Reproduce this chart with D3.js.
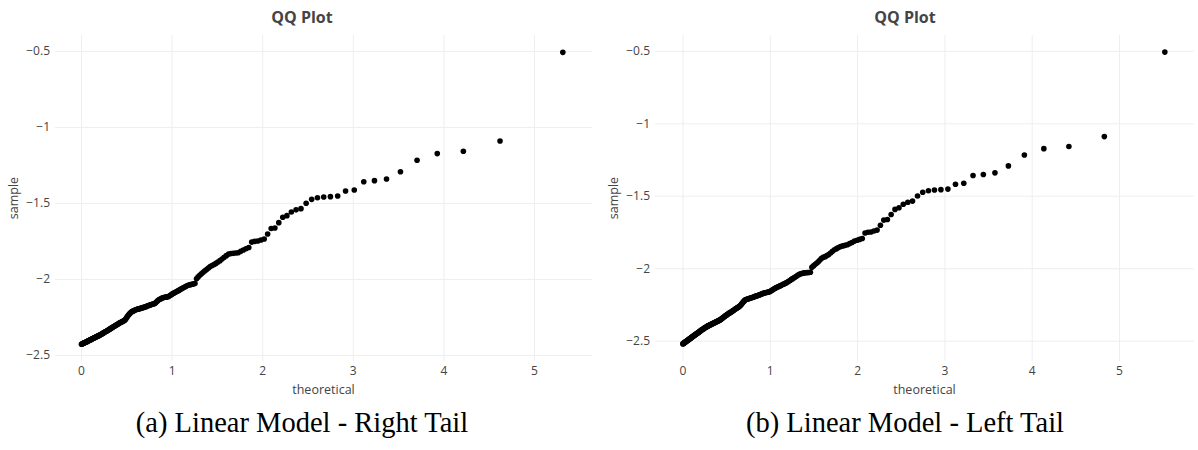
<!DOCTYPE html>
<html>
<head>
<meta charset="utf-8">
<script src="https://cdn.jsdelivr.net/npm/d3@7"></script>
<style>
  html, body { margin: 0; padding: 0; background: #fff; }
  svg { display: block; }
</style>
</head>
<body>
<svg id="chart" width="1198" height="450"></svg>
<script>
// Exponential theoretical quantiles vs. sorted sample, right-tail model (n = 203)
const rightTailTheoretical = [
  0.005,0.010,0.015,0.020,0.025,0.030,0.035,0.040,0.045,0.050,
  0.055,0.061,0.066,0.071,0.076,0.082,0.087,0.092,0.098,0.103,
  0.109,0.114,0.120,0.125,0.131,0.136,0.142,0.148,0.153,0.159,
  0.165,0.171,0.176,0.182,0.188,0.194,0.200,0.206,0.212,0.218,
  0.224,0.230,0.237,0.243,0.249,0.255,0.262,0.268,0.275,0.281,
  0.288,0.294,0.301,0.307,0.314,0.321,0.328,0.334,0.341,0.348,
  0.355,0.362,0.369,0.376,0.384,0.391,0.398,0.405,0.413,0.420,
  0.428,0.435,0.443,0.450,0.458,0.466,0.474,0.482,0.490,0.498,
  0.506,0.514,0.522,0.531,0.539,0.547,0.556,0.564,0.573,0.582,
  0.591,0.600,0.608,0.618,0.627,0.636,0.645,0.655,0.664,0.674,
  0.683,0.693,0.703,0.713,0.723,0.733,0.743,0.754,0.764,0.775,
  0.785,0.796,0.807,0.818,0.829,0.841,0.852,0.864,0.875,0.887,
  0.899,0.911,0.924,0.936,0.949,0.961,0.974,0.987,1.001,1.014,
  1.028,1.041,1.055,1.070,1.084,1.098,1.113,1.128,1.144,1.159,
  1.175,1.191,1.207,1.224,1.240,1.258,1.275,1.293,1.311,1.329,
  1.348,1.367,1.386,1.406,1.426,1.447,1.468,1.489,1.511,1.534,
  1.557,1.580,1.604,1.629,1.654,1.680,1.707,1.734,1.763,1.792,
  1.821,1.852,1.884,1.917,1.951,1.986,2.022,2.060,2.099,2.140,
  2.183,2.227,2.273,2.322,2.374,2.428,2.485,2.546,2.610,2.679,
  2.753,2.833,2.920,3.016,3.121,3.239,3.372,3.526,3.709,3.932,
  4.220,4.625,5.318
];
const rightTailSample = [
  -2.429,-2.427,-2.426,-2.424,-2.423,-2.421,-2.420,-2.419,-2.417,-2.416,
  -2.414,-2.413,-2.411,-2.410,-2.408,-2.406,-2.405,-2.403,-2.401,-2.400,
  -2.398,-2.397,-2.395,-2.393,-2.391,-2.390,-2.388,-2.386,-2.385,-2.383,
  -2.381,-2.379,-2.378,-2.376,-2.374,-2.373,-2.371,-2.369,-2.367,-2.365,
  -2.363,-2.361,-2.358,-2.356,-2.354,-2.352,-2.349,-2.347,-2.345,-2.343,
  -2.340,-2.338,-2.335,-2.333,-2.330,-2.328,-2.325,-2.323,-2.320,-2.317,
  -2.315,-2.312,-2.310,-2.307,-2.304,-2.302,-2.299,-2.297,-2.294,-2.291,
  -2.288,-2.286,-2.284,-2.281,-2.279,-2.276,-2.274,-2.271,-2.266,-2.259,
  -2.252,-2.245,-2.238,-2.232,-2.227,-2.222,-2.217,-2.214,-2.211,-2.209,
  -2.206,-2.204,-2.202,-2.199,-2.198,-2.196,-2.195,-2.193,-2.191,-2.190,
  -2.188,-2.186,-2.184,-2.182,-2.180,-2.177,-2.175,-2.173,-2.171,-2.168,
  -2.166,-2.164,-2.162,-2.160,-2.153,-2.146,-2.139,-2.135,-2.131,-2.128,
  -2.124,-2.121,-2.120,-2.119,-2.117,-2.116,-2.112,-2.107,-2.101,-2.096,
  -2.091,-2.087,-2.083,-2.078,-2.073,-2.068,-2.063,-2.058,-2.053,-2.048,
  -2.043,-2.039,-2.037,-2.034,-2.032,-2.029,-1.998,-1.986,-1.975,-1.966,
  -1.956,-1.946,-1.937,-1.927,-1.918,-1.911,-1.904,-1.897,-1.888,-1.879,
  -1.868,-1.857,-1.846,-1.836,-1.833,-1.831,-1.829,-1.827,-1.818,-1.809,
  -1.801,-1.793,-1.757,-1.752,-1.750,-1.743,-1.737,-1.704,-1.668,-1.664,
  -1.629,-1.594,-1.583,-1.559,-1.545,-1.537,-1.502,-1.476,-1.465,-1.460,
  -1.458,-1.454,-1.421,-1.414,-1.360,-1.353,-1.342,-1.294,-1.219,-1.175,
  -1.160,-1.092,-0.509
];

// Exponential theoretical quantiles vs. sorted sample, left-tail model (n = 250)
const leftTailTheoretical = [
  0.004,0.008,0.012,0.016,0.020,0.024,0.028,0.032,0.036,0.040,
  0.044,0.049,0.053,0.057,0.061,0.065,0.070,0.074,0.078,0.083,
  0.087,0.091,0.096,0.100,0.105,0.109,0.113,0.118,0.122,0.127,
  0.131,0.136,0.141,0.145,0.150,0.154,0.159,0.164,0.168,0.173,
  0.178,0.183,0.187,0.192,0.197,0.202,0.207,0.212,0.217,0.222,
  0.227,0.232,0.237,0.242,0.247,0.252,0.257,0.262,0.268,0.273,
  0.278,0.283,0.289,0.294,0.299,0.305,0.310,0.316,0.321,0.327,
  0.332,0.338,0.343,0.349,0.355,0.360,0.366,0.372,0.378,0.383,
  0.389,0.395,0.401,0.407,0.413,0.419,0.425,0.431,0.437,0.444,
  0.450,0.456,0.462,0.469,0.475,0.482,0.488,0.495,0.501,0.508,
  0.514,0.521,0.528,0.535,0.541,0.548,0.555,0.562,0.569,0.576,
  0.583,0.591,0.598,0.605,0.612,0.620,0.627,0.635,0.642,0.650,
  0.657,0.665,0.673,0.681,0.689,0.697,0.705,0.713,0.721,0.729,
  0.738,0.746,0.754,0.763,0.771,0.780,0.789,0.798,0.807,0.815,
  0.825,0.834,0.843,0.852,0.862,0.871,0.881,0.890,0.900,0.910,
  0.920,0.930,0.940,0.950,0.961,0.971,0.982,0.992,1.003,1.014,
  1.025,1.036,1.048,1.059,1.071,1.082,1.094,1.106,1.118,1.131,
  1.143,1.156,1.168,1.181,1.194,1.208,1.221,1.235,1.248,1.262,
  1.277,1.291,1.305,1.320,1.335,1.351,1.366,1.382,1.398,1.414,
  1.431,1.447,1.465,1.482,1.500,1.518,1.536,1.555,1.574,1.593,
  1.613,1.633,1.654,1.675,1.696,1.718,1.741,1.764,1.787,1.811,
  1.836,1.861,1.887,1.914,1.941,1.970,1.999,2.028,2.059,2.091,
  2.124,2.158,2.193,2.229,2.267,2.306,2.347,2.390,2.434,2.480,
  2.529,2.581,2.635,2.692,2.752,2.817,2.886,2.960,3.040,3.127,
  3.222,3.328,3.446,3.579,3.733,3.916,4.139,4.426,4.832,5.525
];
const leftTailSample = [
  -2.522,-2.520,-2.519,-2.517,-2.515,-2.513,-2.511,-2.510,-2.508,-2.506,
  -2.504,-2.502,-2.500,-2.498,-2.497,-2.495,-2.493,-2.491,-2.489,-2.487,
  -2.485,-2.483,-2.481,-2.479,-2.477,-2.475,-2.473,-2.471,-2.469,-2.467,
  -2.465,-2.463,-2.461,-2.459,-2.457,-2.455,-2.453,-2.451,-2.449,-2.447,
  -2.445,-2.443,-2.441,-2.438,-2.436,-2.434,-2.432,-2.430,-2.427,-2.425,
  -2.423,-2.421,-2.419,-2.417,-2.415,-2.413,-2.411,-2.409,-2.407,-2.405,
  -2.403,-2.401,-2.399,-2.398,-2.396,-2.394,-2.393,-2.391,-2.389,-2.388,
  -2.386,-2.384,-2.383,-2.381,-2.379,-2.378,-2.376,-2.374,-2.372,-2.371,
  -2.369,-2.367,-2.365,-2.364,-2.362,-2.360,-2.358,-2.357,-2.354,-2.351,
  -2.348,-2.345,-2.342,-2.339,-2.336,-2.333,-2.330,-2.327,-2.324,-2.321,
  -2.319,-2.316,-2.313,-2.310,-2.308,-2.305,-2.302,-2.300,-2.297,-2.294,
  -2.292,-2.289,-2.285,-2.282,-2.279,-2.276,-2.273,-2.270,-2.267,-2.264,
  -2.261,-2.256,-2.250,-2.244,-2.238,-2.232,-2.227,-2.221,-2.218,-2.216,
  -2.214,-2.212,-2.211,-2.209,-2.207,-2.206,-2.204,-2.202,-2.200,-2.198,
  -2.196,-2.194,-2.192,-2.191,-2.188,-2.186,-2.184,-2.181,-2.179,-2.177,
  -2.174,-2.172,-2.171,-2.169,-2.167,-2.166,-2.164,-2.163,-2.161,-2.156,
  -2.152,-2.147,-2.143,-2.138,-2.135,-2.132,-2.128,-2.125,-2.122,-2.118,
  -2.114,-2.110,-2.107,-2.103,-2.099,-2.093,-2.088,-2.083,-2.077,-2.072,
  -2.066,-2.060,-2.055,-2.049,-2.043,-2.038,-2.036,-2.034,-2.032,-2.031,
  -2.030,-2.030,-2.028,-1.994,-1.984,-1.975,-1.966,-1.955,-1.943,-1.931,
  -1.925,-1.920,-1.913,-1.906,-1.895,-1.883,-1.873,-1.865,-1.857,-1.850,
  -1.846,-1.842,-1.838,-1.830,-1.822,-1.813,-1.807,-1.801,-1.795,-1.757,
  -1.752,-1.750,-1.743,-1.737,-1.704,-1.668,-1.664,-1.629,-1.594,-1.583,
  -1.559,-1.545,-1.537,-1.502,-1.476,-1.465,-1.460,-1.458,-1.454,-1.421,
  -1.414,-1.360,-1.353,-1.342,-1.294,-1.219,-1.175,-1.160,-1.092,-0.509
];

const xTickValues = [0, 1, 2, 3, 4, 5];
const yTickValues = [-2.5, -2, -1.5, -1, -0.5];

const chartTitle = "QQ Plot";
const xAxisTitle = "theoretical";
const yAxisTitle = "sample";
const captions = ["(a) Linear Model - Right Tail", "(b) Linear Model - Left Tail"];

// Panel geometry and axis ranges
const panels = [
  {
    theoretical: rightTailTheoretical, sample: rightTailSample, caption: captions[0],
    left: 55, right: 592, top: 35, bottom: 361, center: 302,
    xRange: [-0.287, 5.640], yRange: [-2.539, -0.395]
  },
  {
    theoretical: leftTailTheoretical, sample: leftTailSample, caption: captions[1],
    left: 655, right: 1194, top: 35, bottom: 361, center: 905,
    xRange: [-0.315, 5.859], yRange: [-2.640, -0.391]
  }
];

const svg = d3.select("#chart");
const textColor = "#444";
const uiFont = "'Open Sans', 'Noto Sans', sans-serif";
const fmt = d3.format("~g");

panels.forEach(p => {
  const x = d3.scaleLinear().domain(p.xRange).range([p.left, p.right]);
  const y = d3.scaleLinear().domain(p.yRange).range([p.bottom, p.top]);
  const g = svg.append("g");

  // grid
  const xGrid = d3.axisBottom(x).tickValues(xTickValues).tickSize(-(p.bottom - p.top)).tickFormat("");
  g.append("g").attr("transform", `translate(0,${p.bottom})`).call(xGrid)
    .call(s => s.select(".domain").remove())
    .call(s => s.selectAll("line").attr("stroke", "#eeeeee").attr("stroke-width", 1));
  const yGrid = d3.axisLeft(y).tickValues(yTickValues).tickSize(-(p.right - p.left)).tickFormat("");
  g.append("g").attr("transform", `translate(${p.left},0)`).call(yGrid)
    .call(s => s.select(".domain").remove())
    .call(s => s.selectAll("line").attr("stroke", "#eeeeee").attr("stroke-width", 1));

  // tick labels
  const xAxis = d3.axisBottom(x).tickValues(xTickValues).tickSize(0).tickPadding(5).tickFormat(fmt);
  g.append("g").attr("transform", `translate(0,${p.bottom})`).call(xAxis)
    .call(s => s.select(".domain").remove())
    .call(s => s.selectAll("text").attr("fill", textColor).attr("font-size", 12).attr("font-family", uiFont));
  const yAxis = d3.axisLeft(y).tickValues(yTickValues).tickSize(0).tickPadding(5).tickFormat(fmt);
  g.append("g").attr("transform", `translate(${p.left},0)`).call(yAxis)
    .call(s => s.select(".domain").remove())
    .call(s => s.selectAll("text").attr("fill", textColor).attr("font-size", 12).attr("font-family", uiFont));

  // points
  g.append("g").selectAll("circle")
    .data(d3.zip(p.theoretical, p.sample))
    .join("circle")
    .attr("cx", d => x(d[0]))
    .attr("cy", d => y(d[1]))
    .attr("r", 2.8)
    .attr("fill", "#000");

  // titles
  g.append("text").attr("x", p.center).attr("y", 23)
    .attr("text-anchor", "middle").attr("font-family", uiFont)
    .attr("font-weight", "bold").attr("font-size", 16).attr("fill", textColor)
    .text(chartTitle);
  g.append("text").attr("x", (p.left + p.right) / 2).attr("y", p.bottom + 33)
    .attr("text-anchor", "middle").attr("font-family", uiFont)
    .attr("font-size", 12.5).attr("fill", textColor)
    .text(xAxisTitle);
  g.append("text")
    .attr("transform", `translate(${p.left - 37},${(p.top + p.bottom) / 2}) rotate(-90)`)
    .attr("text-anchor", "middle").attr("font-family", uiFont)
    .attr("font-size", 12.5).attr("fill", textColor)
    .text(yAxisTitle);

  // caption
  g.append("text").attr("x", p.center).attr("y", 432)
    .attr("text-anchor", "middle")
    .attr("font-family", "'Liberation Serif', 'DejaVu Serif', serif")
    .attr("font-size", 28.5).attr("fill", "#000")
    .text(p.caption);
});
</script>
</body>
</html>
